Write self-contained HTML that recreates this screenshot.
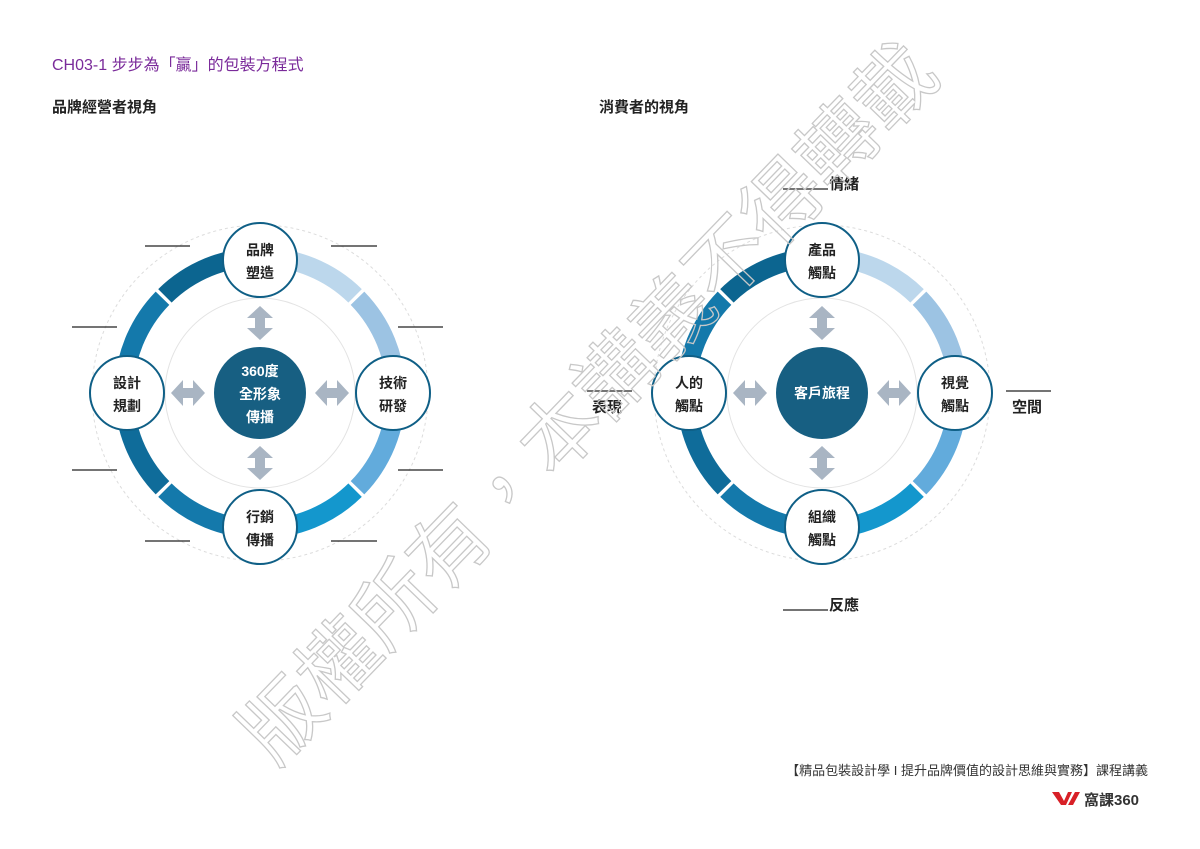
<!DOCTYPE html>
<html><head><meta charset="utf-8"><style>
body{margin:0;background:#fff;}
svg{display:block;font-family:"Liberation Sans","Noto Sans CJK TC",sans-serif;}
</style></head><body>
<svg width="1200" height="849" viewBox="0 0 1200 849" xmlns="http://www.w3.org/2000/svg">
<defs>
<g id="varr"><polygon points="0,-17 13,-5 5,-5 5,5 13,5 0,17 -13,5 -5,5 -5,-5 -13,-5" fill="#a9b5c3"/></g>
<g id="harr"><polygon points="-17,0 -5,-13 -5,-5 5,-5 5,-13 17,0 5,13 5,5 -5,5 -5,13" fill="#a9b5c3"/></g>
<g id="ring">
<circle r="168" fill="none" stroke="#dcdcdc" stroke-dasharray="3,3"/>
<circle r="95" fill="none" stroke="#e3e3e3"/>
<g fill="none" stroke-width="19">
<path d="M0,-136 A136,136 0 0 1 95.5,-96.8" stroke="#bcd7ec"/>
<path d="M97.5,-94.8 A136,136 0 0 1 136,0" stroke="#9cc3e3"/>
<path d="M136,0 A136,136 0 0 1 97.5,94.8" stroke="#62abdc"/>
<path d="M95.5,96.8 A136,136 0 0 1 0,136" stroke="#1497cd"/>
<path d="M0,136 A136,136 0 0 1 -95.5,96.8" stroke="#1479ab"/>
<path d="M-97.5,94.8 A136,136 0 0 1 -136,0" stroke="#0f6c9a"/>
<path d="M-136,0 A136,136 0 0 1 -97.5,-94.8" stroke="#1479ab"/>
<path d="M-95.5,-96.8 A136,136 0 0 1 0,-136" stroke="#0c6590"/>
</g>
<g stroke="#fff" stroke-width="3">
<line x1="-86" y1="-86" x2="-110" y2="-110"/><line x1="86" y1="-86" x2="110" y2="-110"/>
<line x1="-86" y1="86" x2="-110" y2="110"/><line x1="86" y1="86" x2="110" y2="110"/>
</g>
<g fill="#fff" stroke="#0f5f86" stroke-width="2">
<circle cx="0" cy="-133" r="37"/><circle cx="0" cy="134" r="37"/>
<circle cx="-133" cy="0" r="37"/><circle cx="133" cy="0" r="37"/>
</g>
<circle r="46" fill="#175f82"/>
<use href="#varr" y="-70"/><use href="#varr" y="70"/>
<use href="#harr" x="-72"/><use href="#harr" x="72"/>
</g>
</defs>

<text x="52" y="70" font-size="16" fill="#7a2a9a">CH03-1 步步為「贏」的包裝方程式</text>
<text x="52" y="112" font-size="15" font-weight="bold" fill="#222">品牌經營者視角</text>
<text x="599" y="112" font-size="15" font-weight="bold" fill="#222">消費者的視角</text>

<use href="#ring" x="260" y="393"/>
<use href="#ring" x="822" y="393"/>

<g font-size="14" fill="#222" text-anchor="middle" font-weight="bold">
<text x="260" y="255">品牌</text><text x="260" y="278">塑造</text>
<text x="260" y="522">行銷</text><text x="260" y="545">傳播</text>
<text x="127" y="388">設計</text><text x="127" y="411">規劃</text>
<text x="393" y="388">技術</text><text x="393" y="411">研發</text>
<text x="260" y="376" fill="#fff">360度</text>
<text x="260" y="399" fill="#fff">全形象</text>
<text x="260" y="422" fill="#fff">傳播</text>

<text x="822" y="255">產品</text><text x="822" y="278">觸點</text>
<text x="822" y="522">組織</text><text x="822" y="545">觸點</text>
<text x="689" y="388">人的</text><text x="689" y="411">觸點</text>
<text x="955" y="388">視覺</text><text x="955" y="411">觸點</text>
<text x="822" y="398" fill="#fff">客戶旅程</text>
</g>

<g stroke="#222" stroke-width="1.2">
<line x1="145" y1="246" x2="190" y2="246"/><line x1="331" y1="246" x2="377" y2="246"/>
<line x1="72" y1="327" x2="117" y2="327"/><line x1="398" y1="327" x2="443" y2="327"/>
<line x1="72" y1="470" x2="117" y2="470"/><line x1="398" y1="470" x2="443" y2="470"/>
<line x1="145" y1="541" x2="190" y2="541"/><line x1="331" y1="541" x2="377" y2="541"/>
<line x1="783" y1="189" x2="828" y2="189"/>
<line x1="783" y1="610" x2="828" y2="610"/>
<line x1="587" y1="391" x2="632" y2="391"/>
<line x1="1006" y1="391" x2="1051" y2="391"/>
</g>
<g font-size="15" fill="#222" font-weight="bold">
<text x="829" y="189">情緒</text>
<text x="829" y="610">反應</text>
<text x="592" y="412">表現</text>
<text x="1012" y="412">空間</text>
</g>

<text x="1148" y="775" font-size="13" fill="#333" text-anchor="end">【精品包裝設計學 I 提升品牌價值的設計思維與實務】課程講義</text>
<polygon points="1052,792 1059,792 1064,801 1068,792 1072,792 1066,805 1061,805" fill="#d82027"/>
<polygon points="1068,805 1075,792 1080,792 1073,805" fill="#d82027"/>
<text x="1084" y="805" font-size="15" font-weight="bold" fill="#333">窩課360</text>

<text transform="translate(275,768) rotate(-46)" font-size="80" fill="none" stroke="#c8c8c8" stroke-width="1.3">版權所有，本講義不得轉載</text>
</svg>
</body></html>
